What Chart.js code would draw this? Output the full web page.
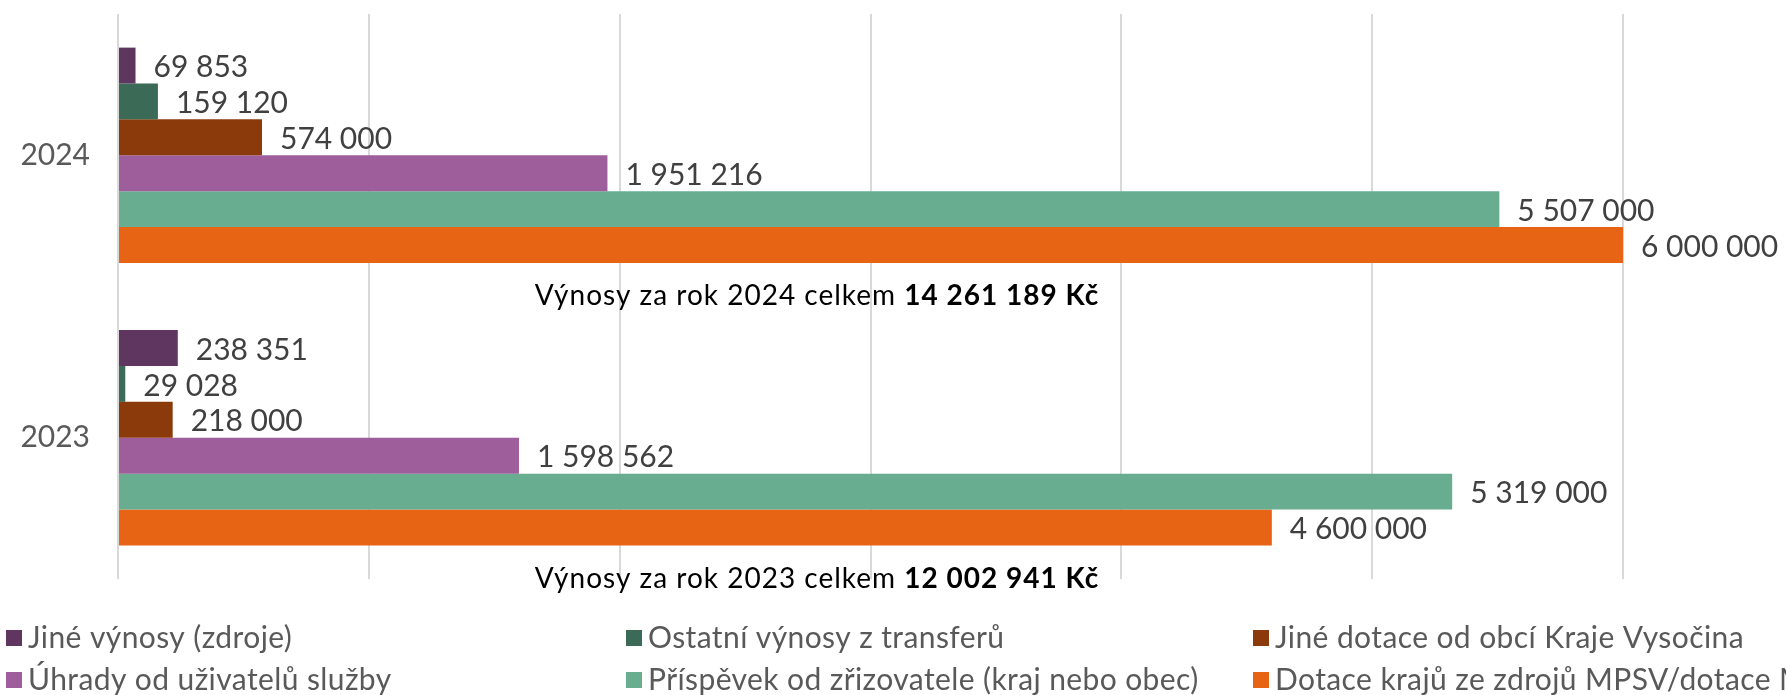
<!DOCTYPE html>
<html>
<head>
<meta charset="utf-8">
<script src="https://cdn.jsdelivr.net/npm/chart.js@4.4.1/dist/chart.umd.min.js"></script>
<style>
  html, body { margin: 0; padding: 0; background: #fff; }
  #wrap { width: 1786px; height: 695px; position: relative; }
</style>
</head>
<body>
<div id="wrap"><canvas id="c" width="1786" height="695"></canvas></div>
<script>
  /* ── data ─────────────────────────────────────────── */
  var YEARS = ['2024', '2023'];
  var SERIES = [
    'Jiné výnosy (zdroje)',
    'Ostatní výnosy z transferů',
    'Jiné dotace od obcí Kraje Vysočina',
    'Úhrady od uživatelů služby',
    'Příspěvek od zřizovatele (kraj nebo obec)',
    'Dotace krajů ze zdrojů MPSV/dotace MPSV'
  ];
  var JINE_VYNOSY = [69853, 238351];
  var OSTATNI_TRANSFERY = [159120, 29028];
  var JINE_DOTACE_OBCI = [574000, 218000];
  var UHRADY_UZIVATELU = [1951216, 1598562];
  var PRISPEVEK_ZRIZOVATELE = [5507000, 5319000];
  var DOTACE_MPSV = [6000000, 4600000];
  var TOTAL_LABELS = ['14 261 189 Kč', '12 002 941 Kč'];
  var X_TICKS = [0, 1000000, 2000000, 3000000, 4000000, 5000000, 6000000];

  var COLORS = ['#5E3660', '#3B6B56', '#8B3A0B', '#9E5E9B', '#69AD90', '#E86415'];
  var FONT = "Lato, 'Open Sans', sans-serif";

  function fmt(v) {
    return String(v).replace(/\B(?=(\d{3})+(?!\d))/g, ' ');
  }

  var values = [JINE_VYNOSY, OSTATNI_TRANSFERY, JINE_DOTACE_OBCI,
                UHRADY_UZIVATELU, PRISPEVEK_ZRIZOVATELE, DOTACE_MPSV];

  var datasets = SERIES.map(function (name, i) {
    return {
      label: name,
      data: values[i],
      backgroundColor: COLORS[i],
      borderWidth: 0,
      barPercentage: 1,
      categoryPercentage: 0.762
    };
  });

  /* value labels next to each bar */
  var valueLabels = {
    id: 'valueLabels',
    afterDatasetsDraw: function (chart) {
      var ctx = chart.ctx;
      ctx.save();
      ctx.font = '30px ' + FONT;
      ctx.fillStyle = '#404040';
      ctx.textAlign = 'left';
      ctx.textBaseline = 'middle';
      chart.data.datasets.forEach(function (ds, i) {
        chart.getDatasetMeta(i).data.forEach(function (bar, j) {
          ctx.fillText(fmt(ds.data[j]), bar.x + 18, bar.y + 2);
        });
      });
      ctx.restore();
    }
  };

  /* totals under each group + legend in three columns */
  var extras = {
    id: 'extras',
    afterDraw: function (chart) {
      var ctx = chart.ctx;
      var y = chart.scales.y;
      var cx = 817;
      ctx.save();
      ctx.textBaseline = 'middle';
      ctx.letterSpacing = '1px';
      YEARS.forEach(function (yr, j) {
        var cy = y.getPixelForValue(j) + 141;
        var a = 'Výnosy za rok ' + yr + ' celkem ';
        var b = TOTAL_LABELS[j];
        ctx.font = '28px ' + FONT;
        var wa = ctx.measureText(a).width;
        ctx.font = 'bold 28px ' + FONT;
        var wb = ctx.measureText(b).width;
        var sx = cx - (wa + wb) / 2;
        ctx.fillStyle = '#000';
        ctx.font = '28px ' + FONT;
        ctx.textAlign = 'left';
        ctx.fillText(a, sx, cy);
        ctx.font = 'bold 28px ' + FONT;
        ctx.fillText(b, sx + wa, cy);
      });

      var cols = [6, 626, 1253];
      var rows = [638, 680];
      ctx.font = '30px ' + FONT;
      ctx.letterSpacing = '0.4px';
      chart.data.datasets.forEach(function (ds, i) {
        var lx = cols[i % 3];
        var ly = rows[Math.floor(i / 3)];
        ctx.fillStyle = ds.backgroundColor;
        ctx.fillRect(lx, ly - 8, 16, 16);
        ctx.fillStyle = '#595959';
        ctx.fillText(ds.label, lx + 22, ly);
      });
      ctx.restore();
    }
  };

  new Chart(document.getElementById('c'), {
    type: 'bar',
    data: { labels: YEARS, datasets: datasets },
    plugins: [valueLabels, extras],
    options: {
      indexAxis: 'y',
      responsive: false,
      animation: false,
      layout: { padding: { top: 14, bottom: 116, right: 163, left: 0 } },
      plugins: { legend: { display: false }, tooltip: { enabled: false } },
      scales: {
        x: {
          min: 0,
          max: 6000000,
          afterBuildTicks: function (s) {
            s.ticks = X_TICKS.map(function (v) { return { value: v }; });
          },
          ticks: { display: false },
          border: { display: false },
          grid: { color: '#D9D9D9', lineWidth: 2, drawTicks: false }
        },
        y: {
          afterFit: function (s) {
            s.width = 118;
            s.paddingTop = 0;
            s.paddingBottom = 0;
          },
          grid: { display: false, drawTicks: false },
          border: { display: false },
          ticks: {
            color: '#595959',
            padding: 28,
            font: { family: FONT, size: 30 }
          }
        }
      }
    }
  });
</script>
</body>
</html>
